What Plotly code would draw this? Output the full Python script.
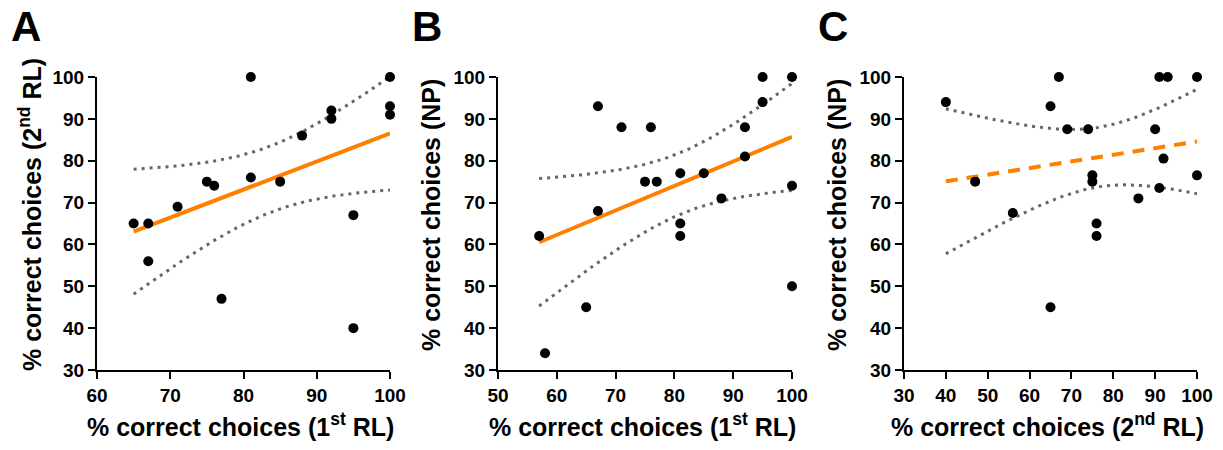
import numpy as np
import plotly.graph_objects as go

# Panel A: 1st RL vs 2nd RL
a_x = [65, 67, 67, 71, 75, 76, 77, 81, 81, 85, 88, 92, 92, 95, 95, 100, 100, 100]
a_y = [65, 65, 56, 69, 75, 74, 47, 100, 76, 75, 86, 92, 90, 67, 40, 100, 93, 91]

# Panel B: 1st RL vs NP
b_x = [57, 58, 65, 67, 67, 71, 75, 77, 76, 81, 81, 81, 85, 88, 92, 92, 95, 95, 100, 100, 100]
b_y = [62, 34, 45, 93, 68, 88, 75, 75, 88, 77, 65, 62, 77, 71, 88, 81, 100, 94, 100, 74, 50]

# Panel C: 2nd RL vs NP
c_x = [40, 47, 56, 65, 65, 67, 69, 74, 75, 75, 76, 76, 86, 90, 91, 92, 91, 93, 100, 100]
c_y = [94, 75, 67.5, 93, 45, 100, 87.5, 87.5, 76.5, 75, 65, 62, 71, 87.5, 73.5, 80.5, 100, 100, 100, 76.5]

x_titles = ["% correct choices (1<sup>st</sup> RL)",
            "% correct choices (1<sup>st</sup> RL)",
            "% correct choices (2<sup>nd</sup> RL)"]
y_titles = ["% correct choices (2<sup>nd</sup> RL)",
            "% correct choices (NP)",
            "% correct choices (NP)"]
panel_labels = ["A", "B", "C"]
x_ranges = [[60, 100], [50, 100], [30, 100]]
y_range = [30, 100]

# two-sided 95% t critical values by degrees of freedom
T975 = {16: 2.120, 18: 2.101, 19: 2.093}

FONT = "Liberation Sans, Arial, sans-serif"
ORANGE = "#FF8000"
W, H = 1223, 450
M_T, M_B = 77, 80
domains_px = [(97, 390), (498, 792), (904, 1197)]

fig = go.Figure()

datasets = [(a_x, a_y), (b_x, b_y), (c_x, c_y)]
for i, (xs, ys) in enumerate(datasets):
    xa = "x" if i == 0 else f"x{i+1}"
    ya = "y" if i == 0 else f"y{i+1}"
    x = np.array(xs, float)
    y = np.array(ys, float)
    n = len(x)
    slope, icpt = np.polyfit(x, y, 1)
    resid = y - (slope * x + icpt)
    s = np.sqrt(np.sum(resid ** 2) / (n - 2))
    sxx = np.sum((x - x.mean()) ** 2)
    t = T975[n - 2]
    gx = np.linspace(x.min(), x.max(), 80)
    gy = slope * gx + icpt
    se = s * np.sqrt(1.0 / n + (gx - x.mean()) ** 2 / sxx)
    for band in (gy + t * se, gy - t * se):
        fig.add_trace(go.Scatter(x=gx, y=band, mode="lines", xaxis=xa, yaxis=ya,
                                 line=dict(color="#666666", width=3, dash="3px,5px"),
                                 hoverinfo="skip", showlegend=False))
    fig.add_trace(go.Scatter(x=[x.min(), x.max()], y=[slope * x.min() + icpt, slope * x.max() + icpt],
                             mode="lines", xaxis=xa, yaxis=ya,
                             line=dict(color=ORANGE, width=4,
                                       dash="solid" if i < 2 else "12px,9px"),
                             showlegend=False))
    fig.add_trace(go.Scatter(x=x, y=y, mode="markers", xaxis=xa, yaxis=ya,
                             marker=dict(color="black", size=10), cliponaxis=False,
                             showlegend=False))

layout = dict(
    width=W, height=H,
    margin=dict(l=0, r=0, t=M_T, b=M_B, pad=0),
    paper_bgcolor="white", plot_bgcolor="white",
    showlegend=False,
    font=dict(family=FONT, color="black"),
)
annotations = []
plot_h = H - M_T - M_B
for i in range(3):
    xk = "xaxis" if i == 0 else f"xaxis{i+1}"
    yk = "yaxis" if i == 0 else f"yaxis{i+1}"
    d0, d1 = domains_px[i]
    dom = [d0 / W, d1 / W]
    ax_common = dict(showline=True, linecolor="black", linewidth=2, ticks="outside",
                     ticklen=7, tickwidth=2, tickcolor="black", showgrid=False,
                     zeroline=False, automargin=False,
                     tickfont=dict(family=FONT, size=19, color="black", weight="bold"))
    layout[xk] = dict(domain=dom, range=x_ranges[i], dtick=10, tick0=0,
                      anchor="y" if i == 0 else f"y{i+1}", **ax_common)
    layout[yk] = dict(domain=[0, 1], range=y_range, dtick=10, tick0=0,
                      anchor="x" if i == 0 else f"x{i+1}", **ax_common)
    cx = (d0 + d1) / 2
    annotations.append(dict(text=x_titles[i], x=(cx - 3) / W, y=-(425 - (H - M_B)) / plot_h,
                            xref="paper", yref="paper", showarrow=False,
                            xanchor="center", yanchor="middle",
                            font=dict(family=FONT, size=25, color="black", weight="bold")))
    annotations.append(dict(text=y_titles[i], x=(d0 - 67) / W, y=(H - M_B - 215) / plot_h,
                            xref="paper", yref="paper", showarrow=False, textangle=-90,
                            xanchor="center", yanchor="middle",
                            font=dict(family=FONT, size=25, color="black", weight="bold")))
    annotations.append(dict(text=panel_labels[i], x=(d0 - 88) / W, y=(H - M_B - 27) / plot_h,
                            xref="paper", yref="paper", showarrow=False,
                            xanchor="left", yanchor="middle",
                            font=dict(family=FONT, size=42, color="black", weight="bold")))
layout["annotations"] = annotations
fig.update_layout(**layout)
fig.write_html("out.html", config={"displayModeBar": False},
               post_script="document.body.style.margin='0px';document.body.style.padding='0px';")
